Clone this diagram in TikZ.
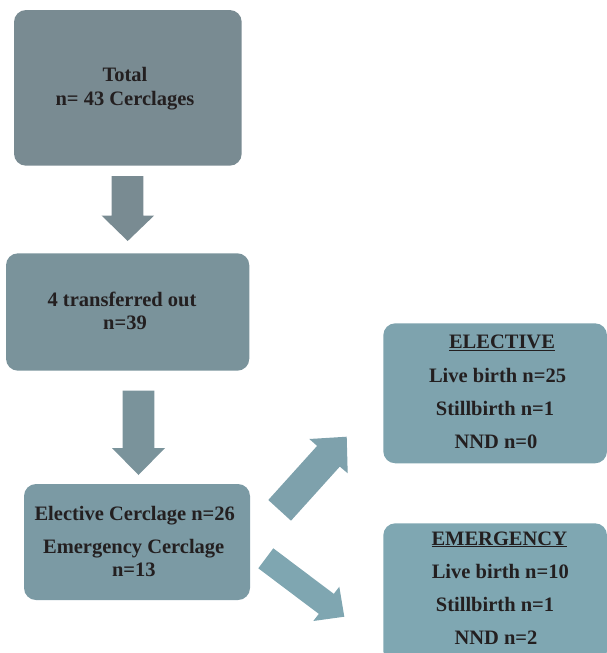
\documentclass[tikz,border=0pt]{standalone}
\usepackage{fontspec}
\setmainfont{Liberation Serif}
\definecolor{cA}{RGB}{121,139,146}
\definecolor{cB}{RGB}{122,147,155}
\definecolor{cC}{RGB}{123,154,164}
\definecolor{cD}{RGB}{126,163,174}
\definecolor{cE}{RGB}{127,167,178}
\definecolor{cUp}{RGB}{126,161,172}
\definecolor{cDn}{RGB}{127,166,177}
\definecolor{txt}{RGB}{35,31,32}
\begin{document}
\begin{tikzpicture}[x=1pt,y=-1pt,
  box/.style={rectangle, rounded corners=12pt, inner sep=0pt, draw=none},
  lbl/.style={anchor=base, inner sep=0pt, text=txt, font=\fontsize{20.5}{24}\selectfont\bfseries}]
\useasboundingbox (0,0) rectangle (607,653);
% boxes
\node[box, fill=cA, minimum width=227.7pt, minimum height=155.7pt] (total) at (127.85,87.85) {};
\node[box, fill=cB, minimum width=243.3pt, minimum height=117.4pt] (trans) at (127.65,312) {};
\node[box, fill=cC, minimum width=226pt, minimum height=116pt] (split) at (137,542) {};
\node[box, fill=cD, minimum width=223.7pt, minimum height=140pt] (elec) at (495.15,393.3) {};
\node[box, fill=cE, minimum width=223.7pt, minimum height=139.7pt] (emer) at (495.15,593.15) {};
% texts
\node[lbl] (t1a) at (125,81.7) {Total};
\node[lbl] (t1b) at (125,105) {n= 43 Cerclages};
\node[lbl] (t2a) at (122,306) {4 transferred out};
\node[lbl] (t2b) at (125,329.3) {n=39};
\node[lbl] (t3a) at (134.7,520.7) {Elective Cerclage n=26};
\node[lbl] (t3b) at (133.7,553.3) {Emergency Cerclage};
\node[lbl] (t3c) at (133.8,576.7) {n=13};
\node[lbl] (t4a) at (502,348.3) {\underline{ELECTIVE}};
\node[lbl] (t4b) at (497.5,382.3) {Live birth n=25};
\node[lbl] (t4c) at (495,415.7) {Stillbirth n=1};
\node[lbl] (t4d) at (496,448.3) {NND n=0};
\node[lbl] (t5a) at (499.3,545) {\underline{EMERGENCY}};
\node[lbl] (t5b) at (500.3,578.3) {Live birth n=10};
\node[lbl] (t5c) at (495,611.7) {Stillbirth n=1};
\node[lbl] (t5d) at (496,644.3) {NND n=2};
% block arrows
\fill[cA] (111.7,176) -- (143.3,176) -- (143.3,215.7) -- (154,215.7) -- (127.7,241) -- (101.7,215.7) -- (111.7,215.7) -- cycle;
\fill[cB] (122.7,390.7) -- (154.3,390.7) -- (154.3,448) -- (165,448) -- (138.5,475) -- (112,448) -- (122.7,448) -- cycle;
\fill[cUp] (268.3,500) -- (317.1,445.9) -- (309.3,439) -- (346.7,436.7) -- (347.7,473.3) -- (339.8,466.6) -- (291,520.7) -- cycle;
\fill[cDn] (258.3,568.3) -- (318.8,613.85) -- (313.3,621) -- (344.3,616.7) -- (339.3,586.7) -- (333.8,593.85) -- (273.3,548.3) -- cycle;
\end{tikzpicture}
\end{document}
